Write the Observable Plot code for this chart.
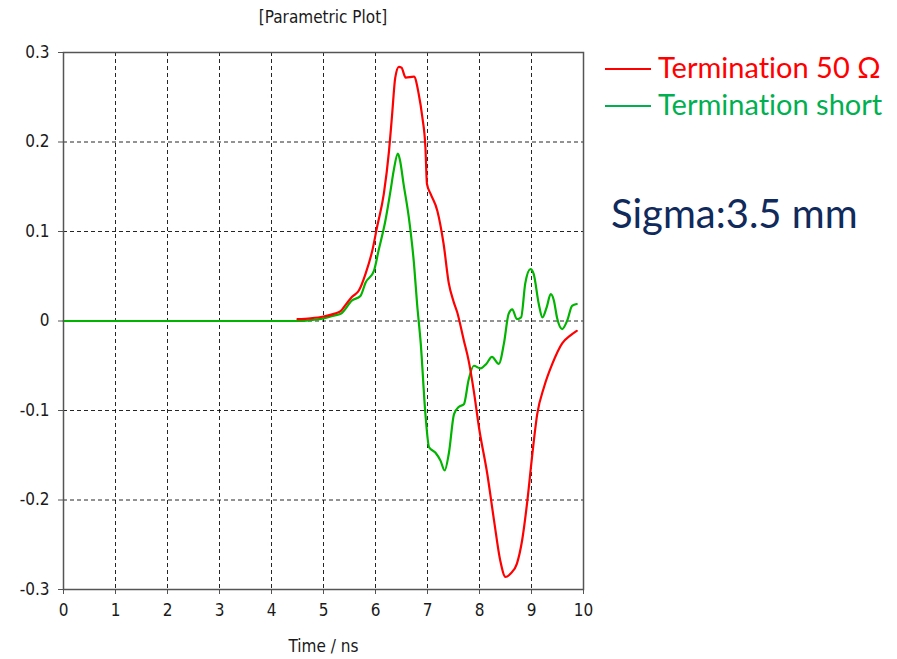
<!DOCTYPE html>
<html>
<head>
<meta charset="utf-8">
<script src="https://cdn.jsdelivr.net/npm/d3@7"></script>
<script src="https://cdn.jsdelivr.net/npm/@observablehq/plot@0.6"></script>
<style>
  html, body { margin: 0; padding: 0; background: #fff; }
  #wrap { position: relative; width: 897px; height: 659px; overflow: hidden; }
  #wrap svg { position: absolute; left: 0; top: 0; }
  #wrap svg text { font-family: "DejaVu Sans Condensed", "DejaVu Sans", sans-serif; font-stretch: condensed; font-size: 17px; fill: #1a1a1a; }
  .title { position: absolute; left: 0; width: 646px; top: 7px; text-align: center;
           font-family: "DejaVu Sans Condensed", "DejaVu Sans", sans-serif; font-stretch: condensed; font-size: 17px; color: #1a1a1a; }
  .legend { position: absolute; left: 605px; font-family: Lato, sans-serif; font-size: 29px; white-space: nowrap; font-variant-ligatures: none; }
  .legend .swatch { display: inline-block; width: 46px; height: 0; border-top: 2px solid; vertical-align: middle; margin-right: 7px; position: relative; top: -2px; }
  .sigma { position: absolute; left: 611px; top: 189px; font-family: Lato, sans-serif; font-size: 40px; color: #102a5c; white-space: nowrap; font-variant-ligatures: none; }
</style>
</head>
<body>
<div id="wrap"></div>
<script>
// Termination 50 Ω: time (ns) and signal value
const time50 = [4.50, 4.75, 5.00, 5.20, 5.33, 5.45, 5.55, 5.68, 5.81, 5.94, 6.03, 6.16, 6.26, 6.32, 6.38, 6.45, 6.50, 6.58, 6.74, 6.83, 6.90, 6.96, 6.99, 7.06, 7.19, 7.31, 7.41, 7.50, 7.57, 7.70, 7.79, 7.89, 7.99, 8.15, 8.28, 8.40, 8.50, 8.60, 8.72, 8.82, 8.92, 9.01, 9.11, 9.24, 9.40, 9.59, 9.75, 9.87];
const value50 = [0.002, 0.003, 0.005, 0.008, 0.011, 0.020, 0.027, 0.034, 0.053, 0.079, 0.105, 0.142, 0.190, 0.231, 0.272, 0.284, 0.283, 0.272, 0.273, 0.254, 0.228, 0.194, 0.153, 0.142, 0.123, 0.086, 0.042, 0.022, 0.010, -0.022, -0.044, -0.078, -0.119, -0.171, -0.223, -0.268, -0.286, -0.282, -0.271, -0.245, -0.201, -0.152, -0.104, -0.074, -0.048, -0.025, -0.016, -0.011];

// Termination short: time (ns) and signal value
const timeShort = [0, 4.50, 4.75, 5.00, 5.20, 5.33, 5.55, 5.71, 5.81, 5.97, 6.06, 6.19, 6.29, 6.35, 6.43, 6.47, 6.54, 6.64, 6.74, 6.80, 6.87, 6.96, 7.03, 7.15, 7.25, 7.33, 7.41, 7.51, 7.60, 7.70, 7.79, 7.89, 8.02, 8.13, 8.24, 8.37, 8.47, 8.56, 8.63, 8.72, 8.80, 8.88, 8.98, 9.04, 9.14, 9.21, 9.29, 9.37, 9.43, 9.49, 9.59, 9.69, 9.78, 9.87];
const valueShort = [0, 0, 0.001, 0.003, 0.006, 0.008, 0.023, 0.028, 0.043, 0.056, 0.079, 0.112, 0.146, 0.168, 0.187, 0.180, 0.153, 0.116, 0.064, 0.019, -0.025, -0.104, -0.141, -0.147, -0.156, -0.167, -0.148, -0.104, -0.096, -0.093, -0.066, -0.050, -0.053, -0.048, -0.040, -0.048, -0.025, 0.008, 0.013, 0.002, 0.004, 0.042, 0.058, 0.053, 0.019, 0.004, 0.015, 0.030, 0.023, 0.004, -0.009, 0.001, 0.017, 0.019];

// Axis ticks
const xTicks = [0, 1, 2, 3, 4, 5, 6, 7, 8, 9, 10];
const yTicks = [-0.3, -0.2, -0.1, 0, 0.1, 0.2, 0.3];

const seriesNames = ["Termination 50 Ω", "Termination short"];
const seriesColors = ["#ff0000", "#00b400"];
const legendColors = ["#ff0000", "#00b050"];

const rows50 = time50.map((t, i) => ({t, v: value50[i]}));
const rowsShort = timeShort.map((t, i) => ({t, v: valueShort[i]}));

const fmtY = d => d === 0 ? "0" : String(d);

const chart = Plot.plot({
  width: 897,
  height: 659,
  marginLeft: 63,
  marginRight: 314,
  marginTop: 52,
  marginBottom: 70,
  style: {background: "transparent"},
  x: {domain: [0, 10]},
  y: {domain: [-0.3, 0.3]},
  marks: [
    Plot.gridX(xTicks.slice(1, -1), {stroke: "#000", strokeOpacity: 0.85, strokeDasharray: "4,3"}),
    Plot.gridY(yTicks.slice(1, -1), {stroke: "#000", strokeOpacity: 0.85, strokeDasharray: "4,3"}),
    Plot.axisX(xTicks, {tickSize: 5, tickPadding: 9, stroke: "#555", label: "Time / ns", labelAnchor: "center", labelArrow: "none", labelOffset: 62}),
    Plot.axisY(yTicks, {tickSize: 5, tickPadding: 9, stroke: "#555", tickFormat: fmtY, label: null}),
    Plot.line(rowsShort, {x: "t", y: "v", stroke: seriesColors[1], strokeWidth: 2.2, curve: "monotone-x"}),
    Plot.line(rows50, {x: "t", y: "v", stroke: seriesColors[0], strokeWidth: 2.2, curve: "monotone-x"}),
    Plot.frame({stroke: "#555", strokeWidth: 1.5})
  ]
});

const wrap = document.getElementById("wrap");
wrap.appendChild(chart);

const title = document.createElement("div");
title.className = "title";
title.textContent = "[Parametric Plot]";
wrap.appendChild(title);

seriesNames.forEach((name, i) => {
  const row = document.createElement("div");
  row.className = "legend";
  row.style.top = (49 + i * 37) + "px";
  row.style.color = legendColors[i];
  const sw = document.createElement("span");
  sw.className = "swatch";
  sw.style.borderTopColor = legendColors[i];
  row.appendChild(sw);
  row.appendChild(document.createTextNode(name));
  wrap.appendChild(row);
});

const sigma = document.createElement("div");
sigma.className = "sigma";
sigma.textContent = "Sigma:3.5 mm";
wrap.appendChild(sigma);
</script>
</body>
</html>
